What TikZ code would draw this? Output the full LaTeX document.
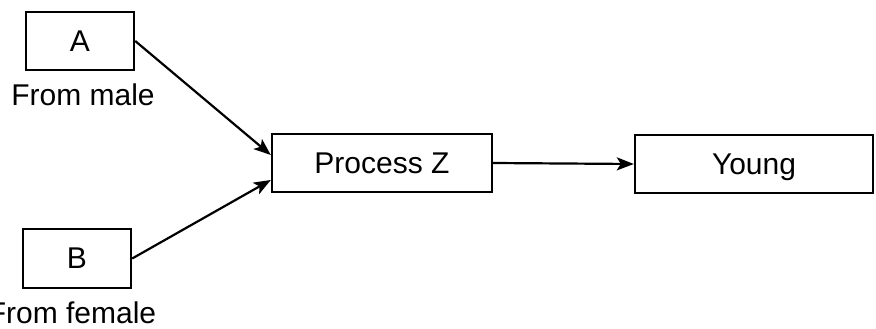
\documentclass[tikz,border=0pt]{standalone}
\usepackage{fontspec}
\setmainfont{Liberation Sans}
\usetikzlibrary{arrows.meta}
\begin{document}
\begin{tikzpicture}[x=1pt,y=-1pt,
  box/.style={draw=black,line width=2.4pt,inner sep=0pt,text depth=0pt,font=\fontsize{30}{34}\selectfont},
  lbl/.style={inner sep=0pt,anchor=base,font=\fontsize{30}{34}\selectfont},
  conn/.style={line width=2.2pt,-{Stealth[length=17pt,width=13pt,inset=4pt]}}]
\useasboundingbox (0,0) rectangle (876,329);
\node[box,minimum width=108pt,minimum height=58pt] (A) at (80,41) {A};
\node[box,minimum width=108pt,minimum height=59pt] (B) at (77,258.5) {B};
\node[box,minimum width=220pt,minimum height=58pt] (Z) at (382,163) {Process Z};
\node[box,minimum width=238pt,minimum height=58pt] (Y) at (754,164) {Young};
\node[lbl] (ml) at (83,106) {From male};
\node[lbl] (fl) at (72,323) {From female};
\coordinate (zin1) at (Z.west |- 0,155);
\coordinate (zin2) at (Z.west |- 0,180);
\draw[conn] (A.east) -- (zin1);
\draw[conn] (B.east) -- (zin2);
\draw[conn] (Z.east) -- (Y.west);
\end{tikzpicture}
\end{document}
